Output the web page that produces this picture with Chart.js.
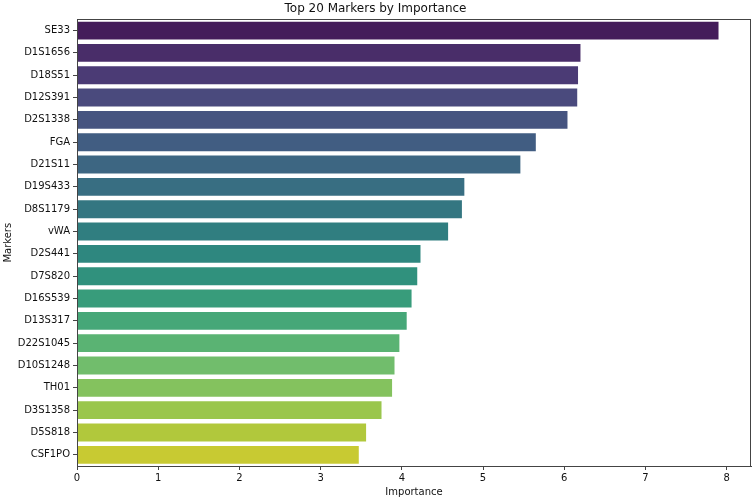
<!DOCTYPE html>
<html>
<head>
<meta charset="utf-8">
<script src="https://cdn.jsdelivr.net/npm/chart.js@4.4.0/dist/chart.umd.min.js"></script>
<style>
  html, body { margin: 0; padding: 0; background: #ffffff; }
  #wrap { width: 754px; height: 500px; }
</style>
</head>
<body>
<div id="wrap"><canvas id="c" width="754" height="500"></canvas></div>
<script>
const markers = ["SE33","D1S1656","D18S51","D12S391","D2S1338","FGA","D21S11","D19S433","D8S1179","vWA",
  "D2S441","D7S820","D16S539","D13S317","D22S1045","D10S1248","TH01","D3S1358","D5S818","CSF1PO"];
const importance = [7.90,6.20,6.17,6.16,6.04,5.65,5.46,4.77,4.74,4.57,
  4.23,4.19,4.12,4.06,3.97,3.91,3.88,3.75,3.56,3.47];
const xTickValues = [0,1,2,3,4,5,6,7,8];
const chartTitle = "Top 20 Markers by Importance";
const xTitle = "Importance";
const yTitle = "Markers";

// viridis anchors at 0.05 steps
const viridisHex = ["#440154","#471365","#482475","#463480","#414487","#3b528b","#355f8d","#2f6c8e",
  "#2a788e","#25848e","#21918c","#1e9c89","#22a884","#2fb47c","#44bf70","#5ec962","#7ad151",
  "#9bd93c","#bddf26","#dfe318","#fde725"];
function hexToRgb(h){ return [parseInt(h.slice(1,3),16),parseInt(h.slice(3,5),16),parseInt(h.slice(5,7),16)]; }
function viridis(t){
  const p = t*20, i = Math.min(19, Math.floor(p)), f = p - i;
  const a = hexToRgb(viridisHex[i]), b = hexToRgb(viridisHex[i+1]);
  return a.map((v,k)=> (v + (b[k]-v)*f)/255);
}
function rgbToHls(r,g,b){
  const mx=Math.max(r,g,b), mn=Math.min(r,g,b), l=(mx+mn)/2;
  if (mx===mn) return [0,l,0];
  const d=mx-mn, s = l<=0.5 ? d/(mx+mn) : d/(2-mx-mn);
  let h;
  if (mx===r) h=((g-b)/d)%6; else if (mx===g) h=(b-r)/d+2; else h=(r-g)/d+4;
  h/=6; if (h<0) h+=1;
  return [h,l,s];
}
function hlsToRgb(h,l,s){
  if (s===0) return [l,l,l];
  const m2 = l<=0.5 ? l*(1+s) : l+s-l*s, m1 = 2*l-m2;
  function v(hue){ hue=((hue%1)+1)%1;
    if (hue<1/6) return m1+(m2-m1)*hue*6;
    if (hue<0.5) return m2;
    if (hue<2/3) return m1+(m2-m1)*(2/3-hue)*6;
    return m1; }
  return [v(h+1/3), v(h), v(h-1/3)];
}
function desat(rgb, prop){
  const [h,l,s] = rgbToHls(...rgb);
  const o = hlsToRgb(h,l,s*prop);
  return 'rgb(' + o.map(x=>Math.round(x*255)).join(',') + ')';
}
const n = markers.length;
const barColors = markers.map((_,i)=> desat(viridis((i+1)/(n+1)), 0.75));

const frame = {
  id: 'frame',
  afterDraw(chart){
    const a = chart.chartArea, ctx = chart.ctx;
    ctx.save();
    ctx.strokeStyle = '#444';
    ctx.lineWidth = 1;
    ctx.strokeRect(Math.round(a.left)+0.5, Math.round(a.top)+0.5, Math.round(a.right-a.left)-1, Math.round(a.bottom-a.top));
    ctx.restore();
  }
};

new Chart(document.getElementById('c'), {
  type: 'bar',
  data: {
    labels: markers,
    datasets: [{
      data: importance,
      backgroundColor: barColors,
      borderWidth: 0,
      categoryPercentage: 0.8,
      barPercentage: 1.0
    }]
  },
  options: {
    indexAxis: 'y',
    responsive: false,
    animation: false,
    layout: { padding: { left: 0, right: 3, top: 0, bottom: 0 } },
    plugins: {
      legend: { display: false },
      tooltip: { enabled: false },
      title: {
        display: true,
        text: chartTitle,
        color: '#111',
        font: { family: 'DejaVu Sans', size: 12, weight: 'normal' },
        padding: { top: 2, bottom: 3 }
      }
    },
    scales: {
      x: {
        type: 'linear',
        min: 0,
        max: 8.3,
        afterBuildTicks(scale){ scale.ticks = xTickValues.map(v=>({value:v})); },
        afterFit(scale){ scale.height = 34; },
        ticks: { color: '#111', font: { family: 'DejaVu Sans', size: 10 }, padding: 2, maxRotation: 0 },
        grid: { display: true, drawOnChartArea: false, drawTicks: true, tickLength: 4, color: '#444' },
        border: { display: true, color: '#444' },
        title: { display: true, text: xTitle, color: '#111', font: { family: 'DejaVu Sans', size: 10 }, padding: { top: 0, bottom: 2 } }
      },
      y: {
        type: 'category',
        afterFit(scale){ scale.width = 77; },
        ticks: { color: '#111', font: { family: 'DejaVu Sans', size: 10 }, padding: 3, autoSkip: false },
        grid: { display: true, offset: false, drawOnChartArea: false, drawTicks: true, tickLength: 4, color: '#444' },
        border: { display: true, color: '#444' },
        title: { display: true, text: yTitle, color: '#111', font: { family: 'DejaVu Sans', size: 10 }, padding: { top: 2, bottom: 0 } }
      }
    }
  },
  plugins: [frame]
});
</script>
</body>
</html>
